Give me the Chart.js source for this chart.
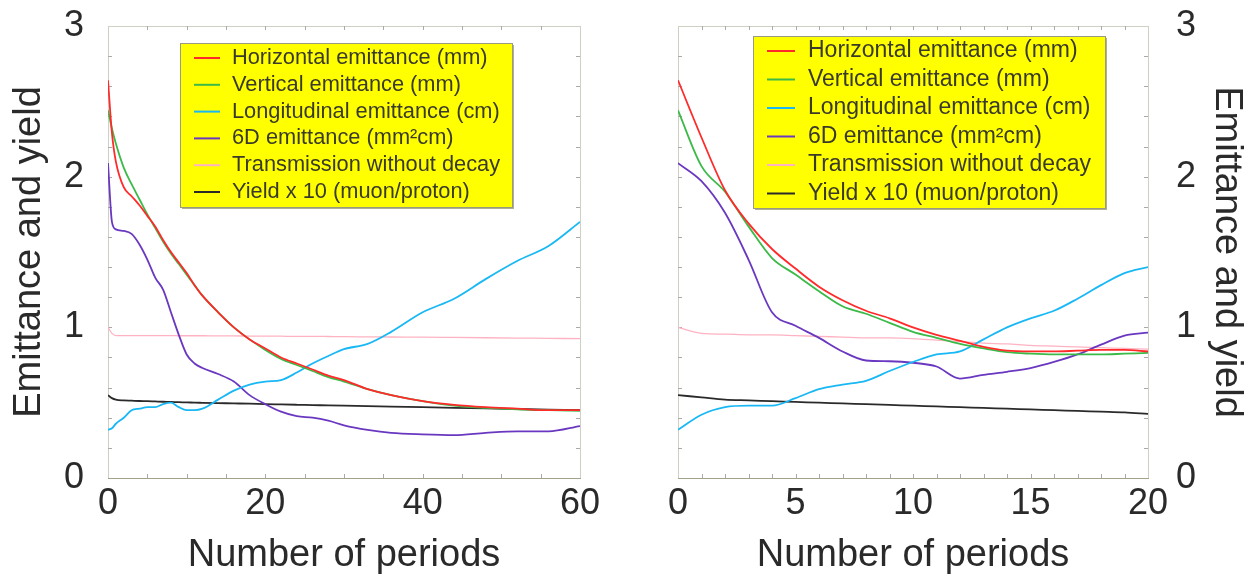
<!DOCTYPE html>
<html>
<head>
<meta charset="utf-8">
<script src="https://cdn.jsdelivr.net/npm/chart.js@4.4.0/dist/chart.umd.min.js"></script>
<style>
  body { margin: 0; background: #fff; }
  #wrap { position: relative; width: 1251px; height: 588px; overflow: hidden; }
  .pane { position: absolute; top: 0; height: 588px; }
</style>
</head>
<body>
<div id="wrap">
  <div class="pane" style="left:0;width:620px"><canvas id="left"></canvas></div>
  <div class="pane" style="left:620px;width:631px"><canvas id="right"></canvas></div>
</div>
<script>
// series labels and colours (shared by both panels)
const seriesNames = [
  "Horizontal emittance (mm)",
  "Vertical emittance (mm)",
  "Longitudinal emittance (cm)",
  "6D emittance (mm\u00B2cm)",
  "Transmission without decay",
  "Yield x 10 (muon/proton)"
];
const seriesColors = ["#ff2a2a", "#3cba48", "#19b8f5", "#6a38c0", "#ffb3c2", "#2a2a2a"];

// left panel: 0..60 periods
const leftPeriods = [0, 0.5, 1, 2, 3, 4, 5, 6, 7, 8, 9, 10, 11, 12, 14, 16, 18, 20, 22, 24, 26, 28, 30, 33, 36, 40, 44, 48, 52, 56, 60];
const leftHorizontal = [2.64, 2.29, 2.1, 1.93, 1.87, 1.81, 1.74, 1.67, 1.58, 1.5, 1.43, 1.36, 1.28, 1.21, 1.1, 1.0, 0.92, 0.86, 0.8, 0.76, 0.72, 0.68, 0.65, 0.59, 0.55, 0.51, 0.485, 0.47, 0.46, 0.45, 0.45];
const leftVertical = [2.44, 2.32, 2.22, 2.06, 1.95, 1.85, 1.75, 1.66, 1.57, 1.49, 1.42, 1.35, 1.28, 1.21, 1.1, 1.0, 0.92, 0.85, 0.79, 0.75, 0.71, 0.67, 0.64, 0.59, 0.55, 0.51, 0.48, 0.465, 0.455, 0.45, 0.445];
const leftLongitudinal = [0.32, 0.33, 0.36, 0.4, 0.45, 0.46, 0.47, 0.47, 0.49, 0.5, 0.47, 0.45, 0.45, 0.46, 0.52, 0.58, 0.62, 0.64, 0.65, 0.7, 0.76, 0.81, 0.855, 0.89, 0.97, 1.1, 1.19, 1.32, 1.44, 1.54, 1.7];
const left6D = [2.09, 1.7, 1.65, 1.64, 1.62, 1.55, 1.45, 1.33, 1.25, 1.1, 0.95, 0.82, 0.76, 0.73, 0.69, 0.64, 0.55, 0.49, 0.44, 0.41, 0.4, 0.38, 0.35, 0.32, 0.3, 0.29, 0.285, 0.3, 0.31, 0.31, 0.345];
const leftTransmission = [1.0, 0.96, 0.945, 0.945, 0.945, 0.945, 0.945, 0.945, 0.945, 0.945, 0.944, 0.944, 0.944, 0.944, 0.943, 0.943, 0.942, 0.942, 0.941, 0.94, 0.94, 0.939, 0.938, 0.937, 0.936, 0.935, 0.933, 0.931, 0.929, 0.927, 0.925];
const leftYield = [0.55, 0.53, 0.52, 0.515, 0.513, 0.511, 0.51, 0.508, 0.506, 0.505, 0.503, 0.502, 0.5, 0.499, 0.497, 0.495, 0.493, 0.49, 0.488, 0.486, 0.484, 0.482, 0.48, 0.477, 0.474, 0.47, 0.466, 0.462, 0.458, 0.454, 0.45];

// right panel: 0..20 periods
const rightPeriods = [0, 1, 2, 3, 4, 5, 6, 7, 8, 9, 10, 11, 12, 13, 14, 15, 16, 17, 18, 19, 20];
const rightHorizontal = [2.64, 2.26, 1.91, 1.69, 1.52, 1.39, 1.27, 1.18, 1.11, 1.06, 1.0, 0.95, 0.91, 0.87, 0.845, 0.84, 0.84, 0.845, 0.85, 0.85, 0.84];
const rightVertical = [2.44, 2.07, 1.9, 1.67, 1.46, 1.35, 1.24, 1.14, 1.09, 1.03, 0.97, 0.93, 0.89, 0.86, 0.835, 0.825, 0.82, 0.82, 0.82, 0.825, 0.83];
const rightLongitudinal = [0.32, 0.42, 0.47, 0.48, 0.48, 0.53, 0.59, 0.62, 0.645, 0.71, 0.77, 0.82, 0.84, 0.92, 1.0, 1.06, 1.11, 1.19, 1.28, 1.36, 1.4];
const right6D = [2.09, 1.97, 1.76, 1.45, 1.1, 1.01, 0.93, 0.84, 0.78, 0.775, 0.765, 0.74, 0.66, 0.685, 0.705, 0.73, 0.77, 0.82, 0.885, 0.945, 0.965];
const rightTransmission = [1.0, 0.96, 0.955, 0.95, 0.95, 0.945, 0.94, 0.935, 0.93, 0.93, 0.925, 0.915, 0.905, 0.895, 0.89, 0.88, 0.875, 0.87, 0.865, 0.86, 0.855];
const rightYield = [0.55, 0.535, 0.52, 0.515, 0.51, 0.505, 0.5, 0.495, 0.49, 0.485, 0.48, 0.475, 0.47, 0.465, 0.46, 0.455, 0.45, 0.445, 0.44, 0.435, 0.425];

// tick labels
const leftXTicks = [0, 20, 40, 60];
const rightXTicks = [0, 5, 10, 15, 20];
const yTicks = [0, 1, 2, 3];

const FONT = "'Liberation Sans', Arial, Helvetica, sans-serif";

function makeDatasets(periods, lists) {
  return lists.map((vals, i) => ({
    label: seriesNames[i],
    data: periods.map((p, j) => ({ x: p, y: vals[j] })),
    borderColor: seriesColors[i],
    backgroundColor: seriesColors[i],
    borderWidth: i === 4 ? 1.3 : 1.8,
    pointRadius: 0,
    cubicInterpolationMode: "monotone",
    fill: false
  }));
}

// light box around the plot with small inward ticks
const framePlugin = {
  id: "frame",
  beforeDatasetsDraw(chart, args, opts) {
    const { ctx, chartArea: a, scales } = chart;
    ctx.save();
    ctx.lineWidth = 1;
    ctx.strokeStyle = "#cfcfc4";
    ctx.strokeRect(Math.round(a.left) + 0.5, Math.round(a.top) + 0.5, Math.round(a.width), Math.round(a.height));
    ctx.strokeStyle = "#a3a38c";
    ctx.beginPath();
    ctx.moveTo(a.left, Math.round(a.bottom) + 0.5);
    ctx.lineTo(a.right + 1, Math.round(a.bottom) + 0.5);
    ctx.stroke();
    ctx.strokeStyle = "#aaa";
    for (let v = opts.xMinor; v < scales.x.max; v += opts.xMinor) {
      const px = Math.round(scales.x.getPixelForValue(v)) + 0.5;
      ctx.beginPath();
      ctx.moveTo(px, a.bottom); ctx.lineTo(px, a.bottom - 4);
      ctx.moveTo(px, a.top); ctx.lineTo(px, a.top + 4);
      ctx.stroke();
    }
    for (let v = opts.yMinor; v < scales.y.max - 0.01; v += opts.yMinor) {
      const py = Math.round(scales.y.getPixelForValue(v)) + 0.5;
      ctx.beginPath();
      ctx.moveTo(a.left, py); ctx.lineTo(a.left + 4, py);
      ctx.moveTo(a.right, py); ctx.lineTo(a.right - 4, py);
      ctx.stroke();
    }
    ctx.restore();
  }
};

// yellow legend box inside the plot
const legendBox = {
  id: "legendBox",
  afterDatasetsDraw(chart, args, o) {
    const { ctx, chartArea: a } = chart;
    const x = a.left + o.dx, y = a.top + o.dy;
    ctx.save();
    ctx.fillStyle = "#b0b090";
    ctx.fillRect(x + 2, y + 2, o.w, o.h);
    ctx.fillStyle = "#ffff00";
    ctx.fillRect(x, y, o.w, o.h);
    ctx.strokeStyle = "#9a9a80";
    ctx.lineWidth = 1;
    ctx.strokeRect(x + 0.5, y + 0.5, o.w, o.h);
    ctx.font = o.size + "px " + FONT;
    ctx.textBaseline = "middle";
    ctx.textAlign = "left";
    chart.data.datasets.forEach((ds, i) => {
      const ry = y + o.first + i * o.row;
      ctx.strokeStyle = ds.borderColor;
      ctx.lineWidth = 2;
      ctx.beginPath();
      ctx.moveTo(x + o.lineX, ry);
      ctx.lineTo(x + o.lineX + o.lineW, ry);
      ctx.stroke();
      ctx.fillStyle = "#3a3a2a";
      ctx.fillText(ds.label, x + o.textX, ry);
    });
    ctx.restore();
  }
};

function makeChart(id, periods, lists, xMax, xTicks, side, legend, xMinor) {
  const isLeft = side === "left";
  return new Chart(document.getElementById(id), {
    type: "line",
    data: { datasets: makeDatasets(periods, lists) },
    plugins: [framePlugin, legendBox],
    options: {
      responsive: true,
      maintainAspectRatio: false,
      animation: false,
      devicePixelRatio: 1,
      layout: { padding: isLeft ? { top: 26, right: 40, left: 0, bottom: 0 } : { top: 26, left: 58, right: 0, bottom: 0 } },
      plugins: {
        legend: { display: false },
        tooltip: { enabled: false },
        frame: { xMinor: xMinor, yMinor: 0.2 },
        legendBox: legend
      },
      scales: {
        x: {
          type: "linear",
          min: 0,
          max: xMax,
          grid: { display: false, drawTicks: false },
          border: { display: false },
          afterBuildTicks: s => { s.ticks = xTicks.map(v => ({ value: v })); },
          afterFit: s => { s.height = 110; s.paddingLeft = 0; s.paddingRight = 0; },
          ticks: { autoSkip: false, maxRotation: 0, padding: 4, color: "#2a2a2a", font: { family: FONT, size: 36 } },
          title: { display: true, text: "Number of periods", color: "#2a2a2a", padding: { top: 0, bottom: 10 }, font: { family: FONT, size: 38 } }
        },
        y: {
          position: side,
          min: 0,
          max: 3,
          grid: { display: false, drawTicks: false },
          border: { display: false },
          afterBuildTicks: s => { s.ticks = yTicks.map(v => ({ value: v })); },
          afterFit: s => { s.width = isLeft ? 108 : 103; s.paddingTop = 0; s.paddingBottom = 0; },
          ticks: { padding: isLeft ? 24 : 28, color: "#2a2a2a", font: { family: FONT, size: 36 } },
          title: { display: true, text: "Emittance and yield", color: "#2a2a2a", padding: { top: isLeft ? 7 : 2, bottom: 0 }, font: { family: FONT, size: 38 } }
        }
      }
    }
  });
}

makeChart("left", leftPeriods,
  [leftHorizontal, leftVertical, leftLongitudinal, left6D, leftTransmission, leftYield],
  60, leftXTicks, "left",
  { dx: 72, dy: 17, w: 332, h: 164, first: 15, row: 26.8, lineX: 14, lineW: 26, textX: 52, size: 21.8 }, 5);

makeChart("right", rightPeriods,
  [rightHorizontal, rightVertical, rightLongitudinal, right6D, rightTransmission, rightYield],
  20, rightXTicks, "right",
  { dx: 75, dy: 10, w: 352, h: 172, first: 15, row: 28.5, lineX: 14, lineW: 28, textX: 55, size: 23 }, 1);
</script>
</body>
</html>
